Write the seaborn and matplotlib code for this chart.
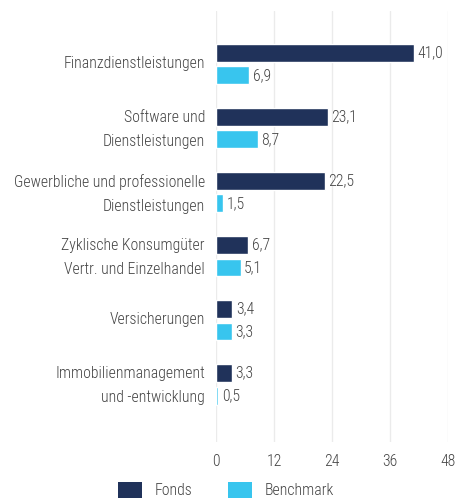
import matplotlib
matplotlib.use("Agg")
import matplotlib.pyplot as plt
import matplotlib.transforms as mtransforms
import seaborn as sns
import pandas as pd
from matplotlib import font_manager as fm
from matplotlib.patches import Patch

categories = [
    "Finanzdienstleistungen",
    "Software und\nDienstleistungen",
    "Gewerbliche und professionelle\nDienstleistungen",
    "Zyklische Konsumgüter\nVertr. und Einzelhandel",
    "Versicherungen",
    "Immobilienmanagement\nund -entwicklung",
]
fonds = [41.0, 23.1, 22.5, 6.7, 3.4, 3.3]
benchmark = [6.9, 8.7, 1.5, 5.1, 3.3, 0.5]
series_names = ["Fonds", "Benchmark"]
xticks = [0, 12, 24, 36, 48]

colors = ["#20325a", "#38c5ee"]
text_color = "#444444"

sns.set_theme(style="white")
fontlist = fm.fontManager.ttflist
available = {f.name for f in fontlist}
family = "DejaVu Sans"
weight = "normal"
for cand in ["Roboto Condensed Light", "Roboto Condensed", "Liberation Sans Narrow",
             "DejaVu Sans Condensed", "Open Sans Condensed"]:
    if cand in available:
        family = cand
        break
if family == "Roboto Condensed":
    if any(f.name == family and f.weight in (300, "light") for f in fontlist):
        weight = "light"
plt.rcParams["font.family"] = [family, "DejaVu Sans"]
plt.rcParams["font.weight"] = weight
fs = 11.3 if family != "DejaVu Sans" else 8.5

df = pd.DataFrame({
    "Kategorie": categories * 2,
    "Wert": fonds + benchmark,
    "Serie": [series_names[0]] * len(categories) + [series_names[1]] * len(categories),
})

fig = plt.figure(figsize=(4.57, 4.99), dpi=100)
ax = fig.add_axes([216 / 457, 1 - 442 / 499, (448 - 216) / 457, (442 - 11) / 499])

sns.barplot(data=df, y="Kategorie", x="Wert", hue="Serie", orient="h",
            palette=colors, width=0.7, gap=0.2, ax=ax, legend=False,
            saturation=1)

for cont in ax.containers:
    vals = [b.get_width() for b in cont]
    ax.bar_label(cont, labels=[f"{v:.1f}".replace(".", ",") for v in vals],
                 padding=2.5, fontsize=fs, color=text_color)

ax.set_xlim(0, 48)
ax.set_ylim(len(categories) - 1 + 0.9, -0.83)
ax.set_xticks(xticks)
ax.set_xticklabels([str(t) for t in xticks])
ax.set_xlabel("")
ax.set_ylabel("")
for s in ax.spines.values():
    s.set_visible(False)
ax.grid(axis="x", color="#ebebeb", linewidth=1)
ax.set_axisbelow(True)
ax.tick_params(axis="both", length=0, labelsize=fs, colors=text_color)
ax.tick_params(axis="y", pad=8)
ax.tick_params(axis="x", pad=9)
shift_multi = mtransforms.ScaledTranslation(0, 4.5 / 100, fig.dpi_scale_trans)
shift_single = mtransforms.ScaledTranslation(0, 2.0 / 100, fig.dpi_scale_trans)
for lab in ax.get_yticklabels():
    lab.set_linespacing(1.75)
    sh = shift_multi if "\n" in lab.get_text() else shift_single
    lab.set_transform(lab.get_transform() + sh)

handles = [Patch(facecolor=c, edgecolor="none") for c in colors]
fig.legend(handles, series_names, loc="center", bbox_to_anchor=(0.494, 1 - 490 / 499),
           ncol=2, frameon=False, fontsize=fs, handlelength=1.5, handleheight=1.15,
           handletextpad=0.8, columnspacing=2.3, labelcolor=text_color)

fig.savefig("out.png", dpi=100)
